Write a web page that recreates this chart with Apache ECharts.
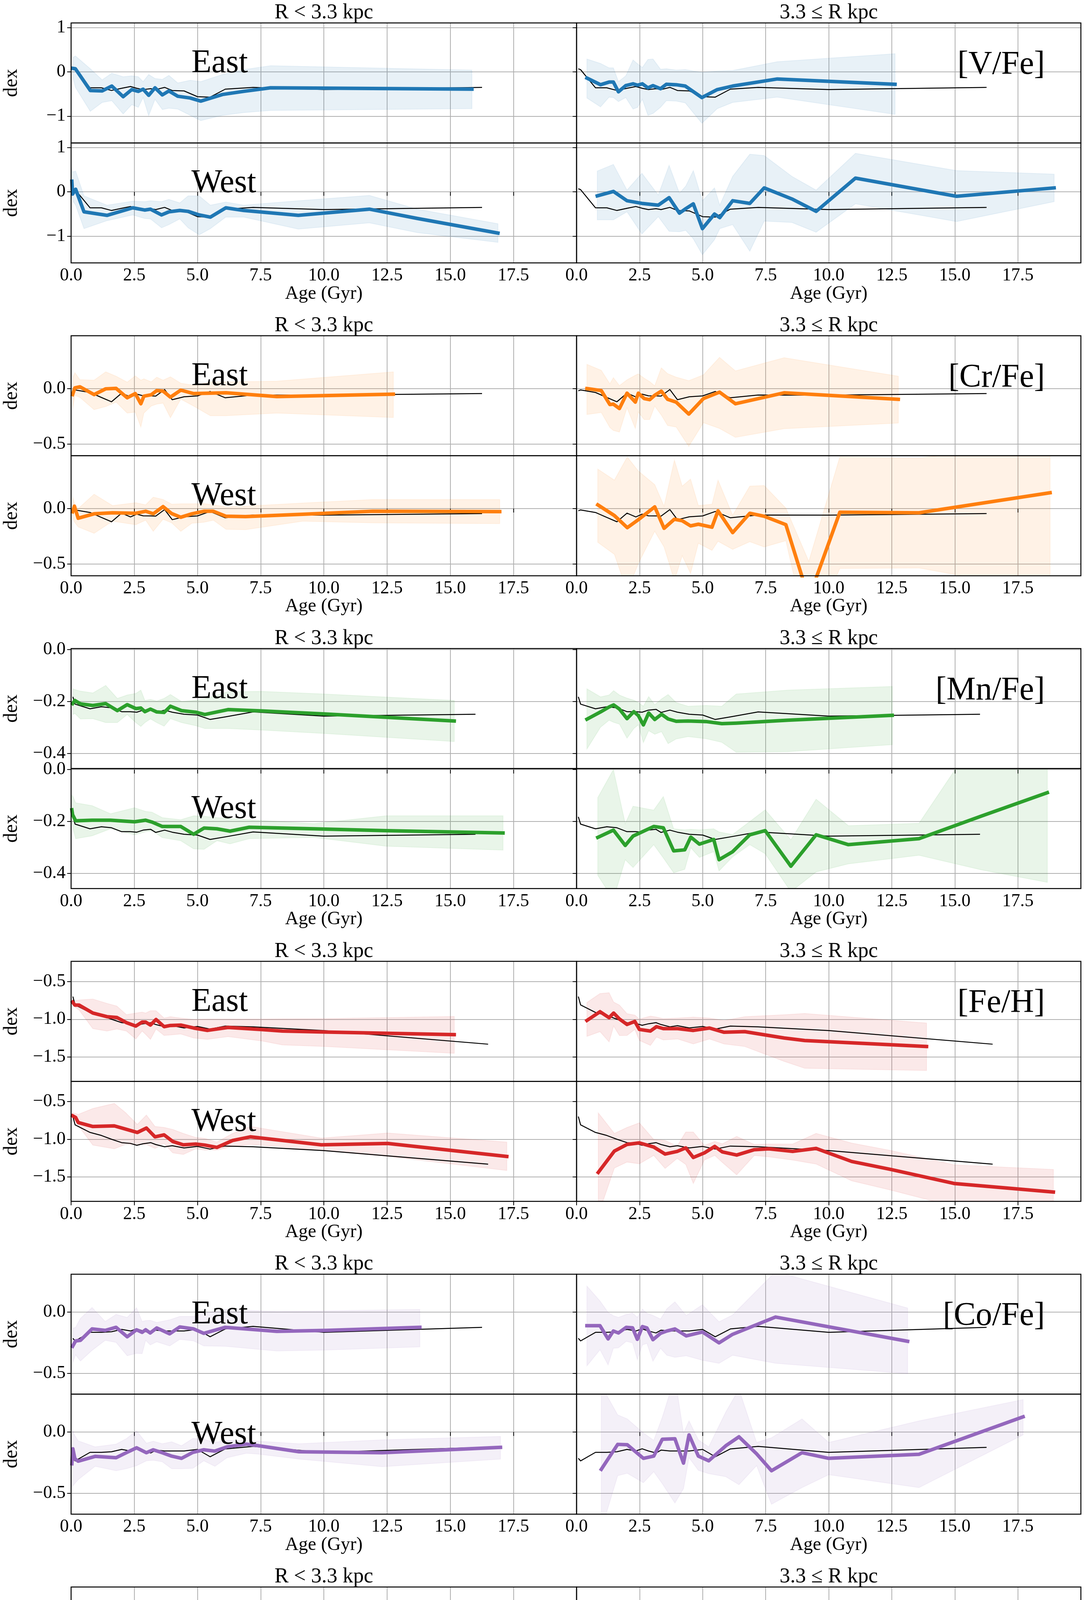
<!DOCTYPE html>
<html>
<head>
<meta charset="utf-8">
<script src="https://cdn.jsdelivr.net/npm/echarts@6.0.0/dist/echarts.min.js"></script>
<style>
  html, body { margin: 0; padding: 0; background: #fff; }
  #main { width: 2775px; height: 4795px; }
</style>
</head>
<body>
<div id="main"></div>
<script>
// rows: [age (Gyr), median, lower, upper]
const elements = ['[V/Fe]', '[Cr/Fe]', '[Mn/Fe]', '[Fe/H]', '[Co/Fe]', '[Ni/Fe]'];
const colors = ['#1f77b4', '#ff7f0e', '#2ca02c', '#d62728', '#9467bd', '#8c564b'];
const yMin = [-1.604, -0.606, -0.458, -1.822, -0.671, -0.315];
const yMax = [1.105, 0.477, 0.004, -0.234, 0.309, 0.082];
const yStep = [1, 0.5, 0.2, 0.5, 0.5, 0.2];
const yTicks = [[-1, 0, 1], [-0.5, 0], [-0.4, -0.2, 0], [-1.5, -1, -0.5], [-0.5, 0], [-0.2, 0]];
const yDecimals = [0, 1, 1, 1, 1, 1];
const xTicks = [0, 2.5, 5, 7.5, 10, 12.5, 15, 17.5];

// black reference curve, same in the four panels of an element
const refAge = [0.07, 0.16, 0.75, 1.2, 1.6, 2.0, 2.35, 2.6, 2.85, 3.15, 3.35, 3.7, 4.0, 4.47, 5.0, 5.5, 6.1, 7.2, 10.0, 16.26];
const refLastAge = [16.26, 16.26, 16.0, 16.5, 16.26, 16.35];
const vRef = [0.07, 0.05, -0.36, -0.36, -0.42, -0.37, -0.33, -0.37, -0.40, -0.38, -0.40, -0.35, -0.42, -0.43, -0.56, -0.57, -0.39, -0.35, -0.40, -0.35];
const crRef = [-0.02, -0.012, -0.035, -0.08, -0.119, -0.041, -0.075, -0.05, -0.065, -0.066, -0.068, -0.009, -0.10, -0.074, -0.066, -0.026, -0.083, -0.058, -0.059, -0.045];
const mnRef = [-0.182, -0.21, -0.228, -0.22, -0.224, -0.239, -0.239, -0.241, -0.233, -0.230, -0.242, -0.233, -0.241, -0.249, -0.252, -0.269, -0.259, -0.24, -0.256, -0.249];
const feRef = [-0.70, -0.81, -0.91, -0.95, -1.0, -1.045, -1.055, -1.08, -1.06, -1.045, -1.07, -1.10, -1.085, -1.115, -1.095, -1.13, -1.09, -1.10, -1.15, -1.33];
const coRef = [-0.215, -0.236, -0.166, -0.166, -0.161, -0.142, -0.155, -0.137, -0.155, -0.171, -0.148, -0.155, -0.155, -0.155, -0.142, -0.202, -0.138, -0.117, -0.166, -0.125];
const niRef = [-0.164, -0.137, -0.114, -0.098, -0.093, -0.091, -0.08, -0.078, -0.079, -0.074, -0.072, -0.068, -0.083, -0.08, -0.079, -0.081, -0.086, -0.085, -0.078, -0.077];

const vEastIn = [[0.06,0.08,-0.09,0.32],[0.17,0.07,-0.35,0.36],[0.76,-0.42,-0.89,0.07],[1.23,-0.43,-0.69,-0.18],[1.61,-0.32,-0.65,-0.03],[2.06,-0.56,-0.95,-0.11],[2.40,-0.40,-0.74,-0.09],[2.66,-0.44,-0.80,-0.11],[2.85,-0.39,-0.58,-0.22],[3.07,-0.53,-0.99,-0.06],[3.32,-0.36,-0.62,-0.15],[3.61,-0.52,-0.85,-0.17],[3.87,-0.43,-0.82,-0.08],[4.22,-0.55,-0.84,-0.25],[4.71,-0.59,-0.98,-0.19],[5.13,-0.66,-1.10,-0.22],[5.99,-0.51,-0.98,-0.06],[6.83,-0.44,-0.92,0.05],[7.89,-0.36,-0.87,0.14],[15.86,-0.39,-0.83,0.04]];
const vEastOut = [[0.41,-0.14,-0.59,0.29],[0.95,-0.29,-0.79,0.19],[1.29,-0.23,-0.57,0.09],[1.46,-0.23,-0.58,0.09],[1.66,-0.45,-0.67,-0.22],[1.95,-0.31,-0.58,-0.09],[2.24,-0.27,-0.84,0.27],[2.42,-0.30,-0.80,0.18],[2.61,-0.27,-0.62,0.10],[2.83,-0.36,-0.98,0.28],[3.03,-0.31,-0.94,0.29],[3.33,-0.38,-0.80,0.06],[3.56,-0.28,-0.65,0.07],[3.95,-0.29,-0.66,0.04],[4.31,-0.32,-0.70,0.05],[4.97,-0.58,-1.16,-0.01],[5.58,-0.40,-0.83,0.02],[6.19,-0.32,-0.69,0.03],[7.96,-0.16,-0.57,0.23],[12.63,-0.28,-0.96,0.41]];
const vWestIn = [[0.03,0.24,-0.12,0.51],[0.06,-0.05,-0.20,0.45],[0.18,0.06,-0.30,0.47],[0.51,-0.45,-0.83,-0.09],[1.42,-0.53,-0.65,-0.30],[2.44,-0.36,-0.52,-0.21],[2.91,-0.41,-0.60,-0.22],[3.14,-0.39,-0.61,-0.20],[3.58,-0.52,-0.81,-0.22],[3.87,-0.45,-0.74,-0.17],[4.30,-0.42,-0.61,-0.25],[4.63,-0.44,-0.81,-0.09],[5.07,-0.52,-0.97,-0.09],[5.51,-0.57,-0.83,-0.30],[6.12,-0.36,-0.57,-0.23],[6.83,-0.42,-0.57,-0.30],[8.99,-0.53,-0.84,-0.20],[11.8,-0.39,-0.70,-0.08],[13.7,-0.60,-0.92,-0.39],[16.89,-0.93,-1.14,-0.72]];
const vWestOut = [[0.82,-0.09,-0.63,0.47],[1.46,0.01,-0.63,0.62],[2.0,-0.20,-0.45,0.04],[2.59,-0.26,-0.95,0.42],[3.24,-0.30,-0.56,-0.07],[3.67,-0.13,-0.89,0.60],[4.08,-0.48,-0.90,-0.03],[4.33,-0.38,-0.87,0.13],[4.63,-0.27,-1.06,0.48],[4.99,-0.83,-1.42,-0.20],[5.47,-0.50,-1.08,0.09],[5.68,-0.58,-0.83,-0.30],[6.19,-0.20,-0.74,0.35],[6.87,-0.26,-1.34,0.85],[7.44,0.09,-0.66,0.82],[8.54,-0.16,-0.69,0.35],[9.50,-0.44,-0.91,0.04],[11.06,0.31,-0.27,0.87],[15.07,-0.10,-0.67,0.48],[18.94,0.09,-0.22,0.40]];

const crEastIn = [[0.06,-0.054,-0.19,0.094],[0.15,0.007,-0.06,0.144],[0.35,0.016,-0.08,0.08],[0.91,-0.054,-0.19,0.076],[1.37,-0.002,-0.162,0.151],[1.78,0.002,-0.122,0.112],[2.22,-0.083,-0.221,0.058],[2.54,-0.045,-0.212,0.115],[2.76,-0.137,-0.347,0.076],[2.88,-0.068,-0.221,0.088],[3.17,-0.056,-0.158,0.061],[3.39,-0.018,-0.140,0.103],[3.64,-0.023,-0.131,0.076],[3.93,-0.077,-0.263,0.106],[4.34,-0.014,-0.095,0.049],[4.85,-0.045,-0.158,0.03],[5.51,-0.041,-0.245,0.06],[6.13,-0.038,-0.245,0.06],[8.14,-0.072,-0.221,0.067],[12.75,-0.050,-0.261,0.151]];
const crEastOut = [[0.41,0.0,-0.234,0.219],[0.98,-0.018,-0.216,0.165],[1.32,-0.144,-0.351,0.043],[1.46,-0.14,-0.378,0.099],[1.70,-0.18,-0.392,0.027],[2.0,-0.041,-0.173,0.079],[2.33,-0.122,-0.36,0.12],[2.45,-0.041,-0.212,0.133],[2.68,-0.09,-0.279,0.094],[2.90,-0.10,-0.279,0.063],[3.10,-0.06,-0.158,0.025],[3.36,-0.023,-0.239,0.187],[3.61,-0.097,-0.333,0.135],[3.95,-0.122,-0.347,0.103],[4.45,-0.23,-0.522,0.072],[5.03,-0.09,-0.308,0.124],[5.67,-0.032,-0.36,0.282],[6.30,-0.137,-0.44,0.160],[8.23,-0.038,-0.362,0.279],[12.76,-0.097,-0.311,0.112]];
const crWestIn = [[0.06,-0.029,-0.078,0.107],[0.13,0.022,-0.12,0.05],[0.28,-0.087,-0.165,0.0],[0.91,-0.047,-0.223,0.13],[1.64,-0.038,-0.114,0.027],[2.56,-0.042,-0.145,0.053],[2.95,-0.024,-0.105,0.034],[3.25,-0.047,-0.205,0.103],[3.64,0.018,-0.096,0.082],[3.98,-0.045,-0.129,0.04],[4.34,-0.078,-0.205,0.043],[4.78,-0.047,-0.132,0.043],[5.25,-0.024,-0.123,0.045],[5.63,-0.024,-0.105,0.034],[6.13,-0.069,-0.187,0.016],[6.90,-0.072,-0.19,0.022],[9.17,-0.051,-0.114,0.05],[11.94,-0.024,-0.129,0.082],[16.96,-0.027,-0.136,0.082]];
const crWestOut = [[0.84,0.034,-0.304,0.357],[1.50,-0.063,-0.413,0.257],[2.01,-0.172,-0.75,0.466],[2.45,-0.10,-0.495,0.339],[3.10,0.016,-0.205,0.216],[3.47,-0.178,-0.346,0.022],[3.88,-0.096,-0.65,0.438],[4.19,-0.11,-0.426,0.203],[4.52,-0.156,-0.585,0.266],[4.83,-0.141,-0.313,0.027],[5.37,-0.168,-0.377,0.04],[5.61,-0.02,-0.295,0.257],[6.19,-0.217,-0.368,-0.06],[6.87,-0.042,-0.299,0.203],[7.44,-0.069,-0.346,0.208],[8.30,-0.145,-0.29,0.004],[9.21,-0.81,-1.2,-0.476],[10.44,-0.033,-0.54,0.466],[13.58,-0.038,-0.536,0.456],[18.78,0.143,-0.75,0.6]];

const mnEastIn = [[0.06,-0.208,-0.25,-0.151],[0.15,-0.196,-0.246,-0.154],[0.37,-0.209,-0.267,-0.16],[0.86,-0.215,-0.266,-0.167],[1.37,-0.208,-0.281,-0.138],[1.83,-0.235,-0.281,-0.188],[2.22,-0.212,-0.25,-0.175],[2.56,-0.227,-0.281,-0.169],[2.76,-0.225,-0.296,-0.156],[2.92,-0.239,-0.281,-0.196],[3.14,-0.229,-0.267,-0.192],[3.39,-0.240,-0.281,-0.198],[3.68,-0.242,-0.295,-0.188],[3.93,-0.218,-0.266,-0.173],[4.37,-0.235,-0.281,-0.20],[4.93,-0.241,-0.293,-0.195],[5.29,-0.250,-0.304,-0.19],[6.21,-0.231,-0.304,-0.162],[7.56,-0.236,-0.310,-0.161],[10.04,-0.248,-0.323,-0.171],[15.16,-0.275,-0.354,-0.196]];
const mnEastOut = [[0.41,-0.268,-0.383,-0.151],[0.95,-0.24,-0.299,-0.182],[1.29,-0.221,-0.272,-0.175],[1.47,-0.213,-0.28,-0.158],[1.70,-0.229,-0.287,-0.175],[2.0,-0.266,-0.341,-0.187],[2.27,-0.239,-0.304,-0.195],[2.45,-0.254,-0.29,-0.204],[2.65,-0.290,-0.358,-0.218],[2.86,-0.244,-0.312,-0.181],[3.10,-0.269,-0.326,-0.212],[3.37,-0.249,-0.316,-0.19],[3.63,-0.267,-0.362,-0.173],[3.95,-0.276,-0.344,-0.204],[4.42,-0.275,-0.335,-0.218],[5.13,-0.277,-0.343,-0.215],[5.76,-0.285,-0.357,-0.218],[6.33,-0.283,-0.395,-0.171],[8.37,-0.272,-0.393,-0.156],[12.52,-0.253,-0.366,-0.142]];
const mnWestIn = [[0.03,-0.155,-0.20,-0.099],[0.06,-0.174,-0.22,-0.10],[0.18,-0.197,-0.266,-0.128],[0.83,-0.195,-0.255,-0.139],[1.56,-0.195,-0.228,-0.170],[2.51,-0.201,-0.251,-0.147],[2.95,-0.195,-0.239,-0.161],[3.20,-0.202,-0.235,-0.164],[3.61,-0.219,-0.262,-0.185],[4.34,-0.219,-0.274,-0.193],[4.85,-0.249,-0.305,-0.178],[5.26,-0.225,-0.307,-0.18],[5.77,-0.228,-0.274,-0.185],[6.29,-0.237,-0.286,-0.188],[7.05,-0.222,-0.266,-0.193],[9.61,-0.228,-0.261,-0.208],[12.46,-0.235,-0.295,-0.178],[17.09,-0.244,-0.310,-0.178]];
const mnWestOut = [[0.84,-0.261,-0.407,-0.108],[1.46,-0.233,-0.50,0.0],[1.93,-0.292,-0.347,-0.208],[2.24,-0.256,-0.377,-0.141],[3.06,-0.219,-0.289,-0.156],[3.44,-0.224,-0.34,-0.104],[3.85,-0.313,-0.397,-0.228],[4.29,-0.309,-0.384,-0.232],[4.53,-0.260,-0.301,-0.23],[4.87,-0.287,-0.338,-0.232],[5.44,-0.269,-0.316,-0.228],[5.65,-0.347,-0.39,-0.24],[6.19,-0.316,-0.336,-0.25],[6.87,-0.251,-0.289,-0.20],[7.48,-0.235,-0.324,-0.155],[8.50,-0.372,-0.47,-0.270],[9.50,-0.251,-0.394,-0.114],[10.78,-0.289,-0.363,-0.216],[13.58,-0.266,-0.330,-0.207],[16.05,-0.179,-0.386,0.15],[18.67,-0.089,-0.434,0.10]];

const feEastIn = [[0.06,-0.773,-0.80,-0.747],[0.15,-0.813,-0.839,-0.755],[0.32,-0.813,-0.88,-0.745],[0.86,-0.918,-1.124,-0.733],[1.42,-0.966,-1.156,-0.79],[1.81,-0.976,-1.129,-0.826],[2.19,-1.045,-1.156,-0.939],[2.56,-1.09,-1.261,-0.918],[2.81,-1.037,-1.156,-0.905],[2.95,-1.037,-1.20,-0.918],[3.14,-1.077,-1.266,-0.887],[3.36,-1.003,-1.129,-0.887],[3.68,-1.098,-1.214,-0.984],[3.93,-1.082,-1.208,-0.966],[4.34,-1.077,-1.195,-0.984],[4.85,-1.116,-1.248,-1.003],[5.39,-1.148,-1.266,-0.997],[6.21,-1.108,-1.23,-0.997],[7.56,-1.137,-1.288,-0.997],[8.36,-1.156,-1.34,-0.995],[10.04,-1.169,-1.361,-0.992],[15.16,-1.203,-1.451,-0.963]];
const feEastOut = [[0.41,-1.016,-1.227,-0.778],[0.93,-0.90,-1.164,-0.66],[1.29,-0.979,-1.30,-0.649],[1.47,-0.918,-1.09,-0.773],[1.70,-0.997,-1.216,-0.813],[2.0,-1.069,-1.214,-0.926],[2.31,-1.029,-1.135,-0.945],[2.49,-1.135,-1.28,-0.997],[2.93,-1.156,-1.346,-0.958],[3.17,-1.098,-1.235,-0.971],[3.44,-1.124,-1.274,-0.992],[4.01,-1.124,-1.261,-0.984],[4.63,-1.148,-1.327,-0.971],[5.27,-1.116,-1.261,-0.984],[5.85,-1.172,-1.327,-1.016],[6.67,-1.164,-1.361,-0.966],[8.23,-1.248,-1.557,-0.94],[9.05,-1.282,-1.649,-0.923],[13.88,-1.361,-1.678,-1.05]];
const feWestIn = [[0.06,-0.69,-0.698,-0.651],[0.18,-0.712,-0.76,-0.66],[0.28,-0.778,-0.817,-0.672],[0.86,-0.831,-1.077,-0.593],[1.71,-0.823,-1.127,-0.526],[2.15,-0.865,-1.069,-0.646],[2.62,-0.91,-1.069,-0.804],[2.98,-0.852,-1.069,-0.68],[3.32,-0.968,-1.122,-0.831],[3.68,-0.942,-1.056,-0.844],[4.02,-1.029,-1.18,-0.87],[4.44,-1.074,-1.201,-0.923],[4.93,-1.063,-1.127,-0.976],[5.29,-1.077,-1.143,-0.989],[5.77,-1.108,-1.143,-1.037],[6.39,-1.016,-1.095,-0.923],[7.09,-0.968,-1.069,-0.831],[9.90,-1.074,-1.148,-0.984],[12.53,-1.056,-1.228,-0.918],[17.24,-1.228,-1.413,-1.037]];
const feWestOut = [[0.86,-1.439,-2.0,-0.651],[1.50,-1.156,-1.381,-0.923],[2.0,-1.069,-1.302,-0.844],[2.49,-1.048,-1.325,-0.783],[3.06,-1.103,-1.214,-1.003],[3.51,-1.196,-1.386,-1.016],[3.99,-1.161,-1.254,-1.09],[4.33,-1.114,-1.333,-0.905],[4.63,-1.241,-1.585,-0.905],[5.07,-1.18,-1.275,-1.082],[5.48,-1.095,-1.214,-1.029],[5.78,-1.167,-1.307,-1.06],[6.35,-1.209,-1.471,-0.963],[7.05,-1.138,-1.214,-1.069],[7.62,-1.127,-1.233,-1.063],[8.57,-1.161,-1.275,-1.063],[9.50,-1.122,-1.328,-0.923],[10.91,-1.294,-1.55,-1.05],[12.45,-1.399,-1.672,-1.148],[14.97,-1.585,-1.89,-1.339],[18.91,-1.698,-2.07,-1.40]];

const coEastIn = [[0.06,-0.28,-0.415,-0.134],[0.18,-0.236,-0.35,-0.125],[0.37,-0.231,-0.40,-0.052],[0.83,-0.138,-0.313,0.037],[1.35,-0.15,-0.231,-0.077],[1.78,-0.125,-0.248,-0.02],[2.22,-0.202,-0.357,-0.044],[2.59,-0.145,-0.337,0.034],[2.81,-0.166,-0.34,-0.077],[2.95,-0.145,-0.231,-0.07],[3.13,-0.171,-0.269,-0.068],[3.39,-0.13,-0.243,-0.085],[3.90,-0.178,-0.277,-0.064],[4.30,-0.122,-0.223,-0.036],[4.85,-0.138,-0.236,-0.036],[5.25,-0.174,-0.277,-0.01],[6.10,-0.125,-0.28,0.021],[8.14,-0.158,-0.318,0.005],[10.12,-0.15,-0.31,0.01],[13.80,-0.125,-0.285,0.021]];
const coEastOut = [[0.41,-0.112,-0.44,0.212],[0.93,-0.112,-0.308,0.09],[1.25,-0.22,-0.432,-0.003],[1.46,-0.155,-0.296,-0.03],[1.66,-0.171,-0.293,-0.044],[1.97,-0.125,-0.239,-0.02],[2.22,-0.129,-0.252,-0.008],[2.41,-0.223,-0.389,-0.044],[2.61,-0.119,-0.269,0.024],[2.79,-0.13,-0.256,-0.01],[3.03,-0.226,-0.402,-0.028],[3.33,-0.174,-0.296,-0.057],[3.58,-0.155,-0.353,0.026],[3.90,-0.138,-0.37,0.083],[4.35,-0.195,-0.357,-0.028],[4.99,-0.163,-0.394,0.059],[5.65,-0.252,-0.419,-0.08],[6.19,-0.182,-0.353,-0.024],[7.89,-0.041,-0.419,0.33],[13.13,-0.239,-0.503,0.033]];
const coWestIn = [[0.03,-0.259,-0.446,-0.031],[0.07,-0.137,-0.44,0.01],[0.15,-0.218,-0.42,-0.03],[0.28,-0.238,-0.389,-0.072],[0.95,-0.199,-0.28,-0.121],[1.78,-0.21,-0.316,-0.099],[2.18,-0.169,-0.30,-0.055],[2.59,-0.129,-0.275,0.01],[2.98,-0.169,-0.235,-0.091],[3.25,-0.145,-0.231,-0.075],[3.61,-0.169,-0.243,-0.096],[3.98,-0.197,-0.30,-0.08],[4.37,-0.215,-0.30,-0.112],[4.82,-0.166,-0.296,-0.052],[5.25,-0.145,-0.235,-0.059],[5.69,-0.156,-0.28,-0.085],[6.17,-0.121,-0.21,-0.068],[6.94,-0.099,-0.173,-0.072],[7.41,-0.112,-0.18,-0.075],[9.02,-0.161,-0.221,-0.096],[12.31,-0.169,-0.283,-0.064],[16.99,-0.125,-0.221,-0.036]];
const coWestOut = [[0.98,-0.305,-0.8,0.38],[1.63,-0.101,-0.357,0.14],[2.01,-0.104,-0.337,0.107],[2.65,-0.215,-0.414,-0.007],[3.06,-0.197,-0.324,-0.068],[3.40,-0.059,-0.422,0.12],[3.90,-0.055,-0.58,0.45],[4.24,-0.254,-0.463,-0.01],[4.46,-0.023,-0.21,0.091],[4.83,-0.197,-0.313,-0.064],[5.24,-0.235,-0.34,-0.121],[5.92,-0.112,-0.365,0.164],[6.44,-0.039,-0.43,0.35],[7.14,-0.178,-0.275,-0.085],[7.73,-0.316,-0.59,-0.047],[8.94,-0.169,-0.454,0.107],[10.0,-0.215,-0.349,-0.085],[13.58,-0.182,-0.454,0.091],[17.71,0.124,-0.023,0.265]];

const niEastIn = [[0.06,-0.144,-0.164,-0.115],[0.15,-0.153,-0.195,-0.107],[0.37,-0.118,-0.144,-0.09],[0.80,-0.107,-0.163,-0.05],[1.37,-0.08,-0.125,-0.037],[1.83,-0.08,-0.133,-0.03],[2.22,-0.071,-0.095,-0.05],[2.56,-0.074,-0.112,-0.033],[2.76,-0.082,-0.138,-0.025],[2.92,-0.067,-0.11,-0.017],[3.17,-0.059,-0.084,-0.03],[3.39,-0.089,-0.125,-0.048],[3.76,-0.066,-0.112,-0.024],[3.98,-0.071,-0.105,-0.05],[4.34,-0.066,-0.107,-0.027],[4.93,-0.063,-0.097,-0.033],[5.48,-0.084,-0.126,-0.053],[6.27,-0.054,-0.112,-0.010],[8.36,-0.084,-0.139,-0.031],[15.16,-0.084,-0.131,-0.04]];
const niEastOut = [[0.41,-0.08,-0.169,0.003],[0.95,-0.112,-0.158,-0.063],[1.29,-0.096,-0.172,-0.027],[1.46,-0.097,-0.131,-0.066],[1.73,-0.105,-0.15,-0.059],[2.04,-0.099,-0.159,-0.041],[2.31,-0.089,-0.126,-0.048],[2.49,-0.073,-0.139,-0.008],[2.68,-0.084,-0.141,-0.027],[2.93,-0.065,-0.112,-0.02],[3.17,-0.082,-0.135,-0.029],[3.47,-0.074,-0.125,-0.025],[3.70,-0.073,-0.12,-0.03],[3.99,-0.128,-0.193,-0.058],[4.63,-0.088,-0.144,-0.037],[5.24,-0.105,-0.185,-0.027],[5.81,-0.081,-0.156,-0.008],[6.46,-0.117,-0.171,-0.065],[8.84,-0.084,-0.167,-0.001],[13.13,-0.069,-0.161,0.022]];
const niWestIn = [[0.03,-0.182,-0.205,-0.147],[0.10,-0.154,-0.20,-0.12],[0.28,-0.139,-0.185,-0.10],[0.95,-0.11,-0.172,-0.048],[1.83,-0.118,-0.185,-0.053],[2.62,-0.087,-0.152,-0.027],[2.95,-0.093,-0.12,-0.071],[3.22,-0.075,-0.139,-0.018],[3.68,-0.084,-0.131,-0.04],[3.98,-0.083,-0.126,-0.044],[4.34,-0.08,-0.113,-0.048],[4.85,-0.073,-0.11,-0.058],[5.22,-0.054,-0.087,-0.045],[5.76,-0.10,-0.159,-0.041],[6.24,-0.086,-0.127,-0.040],[7.09,-0.092,-0.144,-0.038],[8.36,-0.079,-0.13,-0.034],[9.31,-0.071,-0.116,-0.031],[12.31,-0.066,-0.12,-0.022],[16.99,-0.087,-0.131,-0.044]];
const niWestOut = [[0.86,-0.097,-0.175,-0.02],[1.52,-0.101,-0.138,-0.064],[2.07,-0.056,-0.113,-0.002],[2.65,-0.056,-0.169,0.054],[3.22,-0.044,-0.097,0.003],[3.61,-0.052,-0.129,0.025],[4.01,-0.125,-0.193,-0.054],[4.31,-0.11,-0.139,-0.077],[4.63,-0.082,-0.138,-0.031],[4.99,-0.10,-0.19,-0.008],[5.44,-0.071,-0.105,-0.035],[6.22,-0.107,-0.18,-0.031],[6.90,-0.099,-0.221,0.024],[7.48,-0.033,-0.09,0.023],[8.44,-0.186,-0.28,-0.08],[9.52,-0.103,-0.182,-0.02],[10.82,-0.035,-0.125,0.054],[14.29,-0.036,-0.152,0.076],[18.94,-0.005,-0.154,0.12]];

// panels per element: [East inner, East outer, West inner, West outer]
const panels = [
  [vEastIn, vEastOut, vWestIn, vWestOut],
  [crEastIn, crEastOut, crWestIn, crWestOut],
  [mnEastIn, mnEastOut, mnWestIn, mnWestOut],
  [feEastIn, feEastOut, feWestIn, feWestOut],
  [coEastIn, coEastOut, coWestIn, coWestOut],
  [niEastIn, niEastOut, niWestIn, niWestOut]
];
const refs = [vRef, crRef, mnRef, feRef, coRef, niRef];

// layout (pixels)
const FONT = '"Liberation Serif", "DejaVu Serif", serif';
const PLOT_X = [182, 1476];
const PLOT_W = [1294, 1291];
const TOP0 = 58.7, PANEL_H = 307.2, GROUP_H = 800.8;

function rgba(hex, a) {
  const n = parseInt(hex.slice(1), 16);
  return 'rgba(' + (n >> 16) + ',' + ((n >> 8) & 255) + ',' + (n & 255) + ',' + a + ')';
}
function minus(s) { return s.replace('-', '\u2212'); }

const grids = [], xAxes = [], yAxes = [], series = [], graphics = [];

for (let g = 0; g < 6; g++) {
  const gy = g * GROUP_H;
  const refData = refAge.map((a, i) => [i === refAge.length - 1 ? refLastAge[g] : a, refs[g][i]]);
  for (let r = 0; r < 2; r++) {
    for (let c = 0; c < 2; c++) {
      const idx = grids.length;
      const rows = panels[g][r * 2 + c];
      const top = TOP0 + gy + r * PANEL_H;
      grids.push({
        left: PLOT_X[c], top: top, width: PLOT_W[c], height: PANEL_H,
        containLabel: false, outerBoundsMode: 'none', show: false
      });
      const bottomRow = r === 1;
      xAxes.push({
        type: 'value', gridIndex: idx, min: 0, max: 20, interval: 2.5,
        axisLine: { show: false },
        axisTick: { show: bottomRow, length: 10, customValues: xTicks, lineStyle: { color: '#000', width: 2 } },
        axisLabel: {
          show: bottomRow, customValues: xTicks,
          color: '#000', fontFamily: FONT, fontSize: 46, margin: 10,
          formatter: v => v.toFixed(1)
        },
        splitLine: { show: true, lineStyle: { color: '#b0b0b0', width: 2 } }
      });
      yAxes.push({
        type: 'value', gridIndex: idx, min: yMin[g], max: yMax[g],
        minInterval: yStep[g], maxInterval: yStep[g], splitNumber: 3,
        axisLine: { show: false },
        axisTick: { show: true, length: 10, customValues: yTicks[g], lineStyle: { color: '#000', width: 2 } },
        axisLabel: {
          show: c === 0, customValues: yTicks[g],
          color: '#000', fontFamily: FONT, fontSize: 46, margin: 14,
          formatter: v => minus(v.toFixed(yDecimals[g]))
        },
        splitLine: { show: true, lineStyle: { color: '#b0b0b0', width: 2 } }
      });

      const col = colors[g];
      series.push({
        type: 'custom', xAxisIndex: idx, yAxisIndex: idx, clip: true, silent: true, z: 1,
        data: rows.map(rw => [rw[0], rw[2], rw[3]]),
        encode: { x: 0, y: [1, 2] },
        renderItem: function (params, api) {
          if (params.dataIndex !== 0) return null;
          const upper = rows.map(rw => api.coord([rw[0], rw[3]]));
          const lower = rows.map(rw => api.coord([rw[0], rw[2]])).reverse();
          return {
            type: 'polygon',
            shape: { points: upper.concat(lower) },
            style: { fill: rgba(col, 0.1), stroke: rgba(col, 0.08), lineWidth: 2 }
          };
        }
      });
      series.push({
        type: 'line', xAxisIndex: idx, yAxisIndex: idx, data: refData,
        symbol: 'none', silent: true, z: 3,
        lineStyle: { color: '#000', width: 2.5, join: 'round' }
      });
      series.push({
        type: 'line', xAxisIndex: idx, yAxisIndex: idx, data: rows.map(rw => [rw[0], rw[1]]),
        symbol: 'none', silent: true, z: 4,
        lineStyle: { color: col, width: 9, join: 'round', cap: 'square' }
      });

      // frame
      graphics.push({
        type: 'rect', z: 100, silent: true,
        shape: { x: PLOT_X[c], y: top, width: PLOT_W[c], height: PANEL_H },
        style: { fill: 'none', stroke: '#000', lineWidth: 2.5 }
      });
      if (c === 0) {
        graphics.push({
          type: 'text', x: 30, y: top + PANEL_H / 2, rotation: Math.PI / 2, z: 50,
          style: { text: 'dex', font: '50px ' + FONT, fill: '#000', textAlign: 'center', textVerticalAlign: 'middle', align: 'center', verticalAlign: 'middle' }
        });
        graphics.push({
          type: 'text', x: 490, y: top + 104.5, z: 50,
          style: { text: r === 0 ? 'East' : 'West', font: '84px ' + FONT, fill: '#000', textAlign: 'left', textVerticalAlign: 'middle', align: 'left', verticalAlign: 'middle' }
        });
      }
    }
  }
  const titles = ['R < 3.3 kpc', '3.3 \u2264 R kpc'];
  for (let c = 0; c < 2; c++) {
    const cx = PLOT_X[c] + PLOT_W[c] / 2;
    graphics.push({
      type: 'text', x: cx, y: 33 + gy, z: 50,
      style: { text: titles[c], font: '54px ' + FONT, fill: '#000', textAlign: 'center', textVerticalAlign: 'middle', align: 'center', verticalAlign: 'middle' }
    });
    graphics.push({
      type: 'text', x: cx, y: 752 + gy, z: 50,
      style: { text: 'Age (Gyr)', font: '48px ' + FONT, fill: '#000', textAlign: 'center', textVerticalAlign: 'middle', align: 'center', verticalAlign: 'middle' }
    });
  }
  graphics.push({
    type: 'text', x: 2675, y: 167 + gy, z: 50,
    style: { text: elements[g], font: '84px ' + FONT, fill: '#000', textAlign: 'right', textVerticalAlign: 'middle', align: 'right', verticalAlign: 'middle' }
  });
}

const myChart = echarts.init(document.getElementById('main'), null, { renderer: 'canvas' });
myChart.setOption({
  animation: false,
  backgroundColor: '#fff',
  grid: grids,
  xAxis: xAxes,
  yAxis: yAxes,
  series: series,
  graphic: { elements: graphics }
});
</script>
</body>
</html>
